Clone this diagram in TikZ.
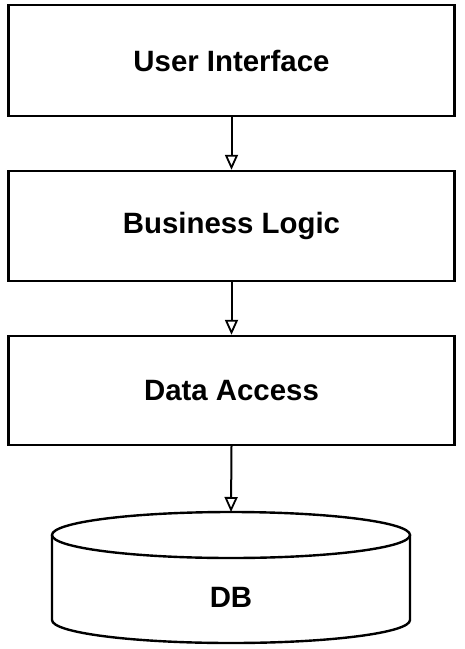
\documentclass[tikz,border=0pt]{standalone}
\usepackage{fontspec}
\setmainfont{Liberation Sans}
\usetikzlibrary{arrows.meta}
\tikzset{
  layerbox/.style={draw=black, line width=2.4bp, fill=white, minimum width=446bp, inner sep=0pt,
    font=\bfseries\fontsize{29.5}{33}\selectfont, text=black},
  dbline/.style={draw=black, line width=2.4bp},
  flow/.style={draw=black, line width=2bp, -{Triangle[open, length=15bp, width=13bp, line width=1.8bp]}},
  lbl/.style={font=\bfseries\fontsize{29.5}{33}\selectfont, text=black, inner sep=0pt}
}
\begin{document}
\begin{tikzpicture}[x=1bp, y=-1bp]
\useasboundingbox (0,0) rectangle (465,649);
\node[layerbox, minimum height=111bp] (ui) at (231.5,60.5) {User Interface};
\node[layerbox, minimum height=110bp] (bl) at (231.5,226) {Business Logic};
\node[layerbox, minimum height=109bp] (da) at (231.5,390.5) {Data Access};
% database cylinder
\draw[dbline] (52,535) -- (52,620) arc[start angle=180, end angle=360, x radius=179bp, y radius=23bp] -- (410,535);
\draw[dbline] (231,535) ellipse [x radius=179bp, y radius=23bp];
\coordinate (dbtop) at (231,512);
\node[lbl] (db) at (231,597) {DB};
% connectors
\draw[flow] (ui.south) -- (bl.north);
\draw[flow] (bl.south) -- (da.north);
\draw[flow] (da.south) -- (dbtop);
\end{tikzpicture}
\end{document}
